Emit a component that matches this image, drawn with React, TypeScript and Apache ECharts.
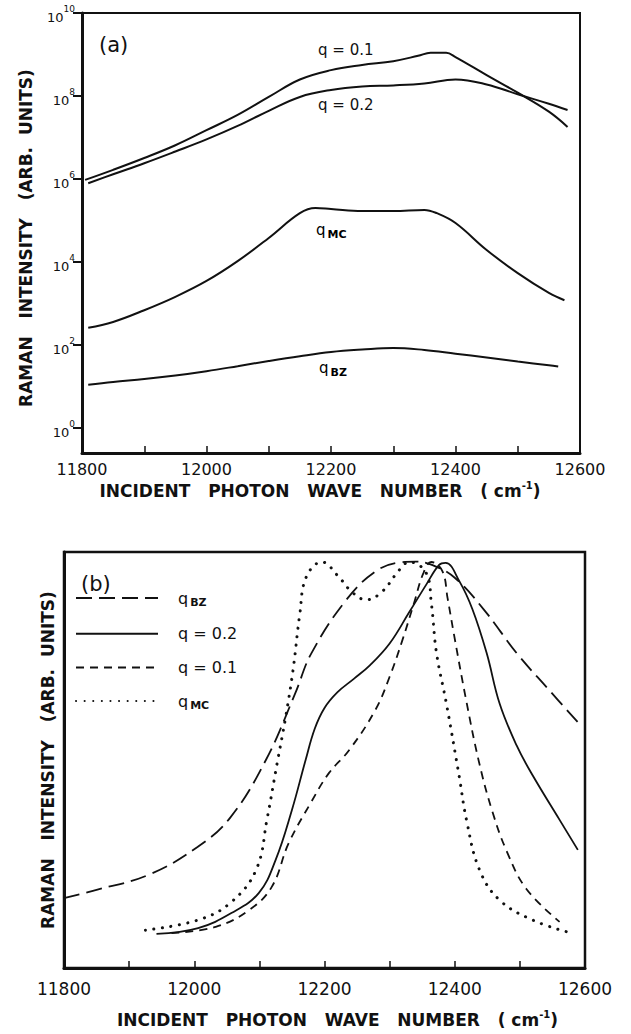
import React, { useEffect, useRef } from 'react';
import * as echarts from 'echarts';

const FONT = '"DejaVu Sans", "Liberation Sans", sans-serif';
const INK = '#111';

// ---------- Panel (a): log intensity vs incident photon wave number ----------
const aQ01Wave = [11805, 11850, 11900, 11950, 12000, 12050, 12100, 12150, 12200, 12250, 12300, 12340, 12360, 12385, 12400, 12450, 12500, 12550, 12580];
const aQ01Int = [9.5e5, 1.66e6, 3.2e6, 6.5e6, 1.5e7, 3.5e7, 9.5e7, 2.5e8, 4.2e8, 5.6e8, 6.9e8, 9.3e8, 1.1e9, 1.1e9, 8.7e8, 3.2e8, 1.2e8, 4.2e7, 1.8e7];

const aQ02Wave = [11810, 11850, 11900, 11950, 12000, 12050, 12100, 12150, 12200, 12250, 12300, 12350, 12400, 12450, 12500, 12550, 12580];
const aQ02Int = [7.9e5, 1.3e6, 2.4e6, 4.6e6, 9.0e6, 1.9e7, 4.4e7, 9.5e7, 1.4e8, 1.7e8, 1.8e8, 2.0e8, 2.5e8, 1.9e8, 1.1e8, 6.5e7, 4.6e7];

const aMCWave = [11810, 11850, 11900, 11950, 12000, 12050, 12100, 12150, 12175, 12200, 12250, 12300, 12350, 12370, 12400, 12450, 12500, 12550, 12575];
const aMCInt = [260, 360, 690, 1450, 3500, 1.05e4, 3.8e4, 1.5e5, 2.0e5, 1.9e5, 1.7e5, 1.7e5, 1.8e5, 1.5e5, 8.7e4, 1.95e4, 5400, 1800, 1200];

const aBZWave = [11810, 11850, 11900, 11950, 12000, 12050, 12100, 12150, 12200, 12250, 12300, 12350, 12400, 12450, 12500, 12550, 12565];
const aBZInt = [11, 12.9, 15.1, 18.4, 23.4, 30.9, 41.2, 53.7, 67.6, 77.6, 85, 75.9, 61.7, 50, 39.8, 32.4, 30.2];

const aYTicks = [1, 1e2, 1e4, 1e6, 1e8, 1e10];

// ---------- Panel (b): normalised intensity (arb. units) ----------
const bBZWave = [11800, 11850, 11930, 12005, 12055, 12110, 12155, 12180, 12235, 12280, 12315, 12340, 12365, 12400, 12445, 12495, 12545, 12590];
const bBZInt = [0.168, 0.188, 0.224, 0.291, 0.361, 0.5, 0.66, 0.757, 0.888, 0.955, 0.975, 0.977, 0.969, 0.938, 0.861, 0.757, 0.668, 0.589];

const bQ02Wave = [11942, 12006, 12057, 12099, 12125, 12150, 12171, 12185, 12200, 12220, 12245, 12270, 12300, 12330, 12356, 12376, 12386, 12407, 12427, 12449, 12469, 12495, 12520, 12561, 12589];
const bQ02Int = [0.082, 0.096, 0.132, 0.18, 0.26, 0.38, 0.5, 0.575, 0.625, 0.663, 0.695, 0.728, 0.78, 0.855, 0.921, 0.969, 0.974, 0.93, 0.863, 0.757, 0.635, 0.535, 0.462, 0.356, 0.284];

const bQ01Wave = [11965, 12033, 12084, 12119, 12145, 12180, 12207, 12238, 12278, 12300, 12320, 12338, 12352, 12364, 12381, 12389, 12399, 12418, 12438, 12458, 12480, 12510, 12561];
const bQ01Int = [0.084, 0.099, 0.139, 0.195, 0.3, 0.4, 0.469, 0.524, 0.62, 0.7, 0.79, 0.88, 0.95, 0.976, 0.954, 0.889, 0.8, 0.64, 0.49, 0.375, 0.28, 0.19, 0.111];

const bMCWave = [11925, 12005, 12055, 12095, 12112, 12127, 12140, 12152, 12162, 12172, 12196, 12222, 12242, 12264, 12288, 12315, 12330, 12356, 12364, 12372, 12387, 12407, 12418, 12438, 12469, 12520, 12572];
const bMCInt = [0.091, 0.115, 0.156, 0.236, 0.36, 0.49, 0.6, 0.72, 0.85, 0.94, 0.976, 0.94, 0.904, 0.885, 0.904, 0.957, 0.976, 0.95, 0.877, 0.757, 0.637, 0.459, 0.356, 0.236, 0.163, 0.115, 0.087];

const legendNames = ['qBZ', 'q = 0.2', 'q = 0.1', 'qMC'];
const xTitle = 'INCIDENT   PHOTON   WAVE   NUMBER   ( cm';
const yTitle = 'RAMAN   INTENSITY   (ARB.  UNITS)';

const zip = (xs: number[], ys: number[]) => xs.map((x, i) => [x, ys[i]]);

export default function App() {
  const ref = useRef<HTMLDivElement>(null);

  useEffect(() => {
    if (!ref.current) return;
    const chart = echarts.init(ref.current, null, { renderer: 'svg' });

    const titleRich = {
      t: { fontFamily: FONT, fontSize: 17, fontWeight: 'bold', color: INK, lineHeight: 22, verticalAlign: 'middle' },
      s: { fontFamily: FONT, fontSize: 10, fontWeight: 'bold', color: INK, lineHeight: 10, verticalAlign: 'top' },
    };
    const xName = `{t|${xTitle}}{s|-1}{t|)}`;

    const lineA = (name: string, xs: number[], ys: number[]) => ({
      type: 'line', name, xAxisIndex: 0, yAxisIndex: 0,
      data: zip(xs, ys), smooth: 0.4, symbol: 'none', silent: true,
      lineStyle: { color: INK, width: 2 },
    });
    const lineB = (name: string, xs: number[], ys: number[], ls: any) => ({
      type: 'line', name, xAxisIndex: 1, yAxisIndex: 1,
      data: zip(xs, ys), smooth: 0.4, symbol: 'none', silent: true,
      itemStyle: { color: INK },
      lineStyle: { color: INK, width: 1.8, ...ls },
    });

    const xAxisCommon = (gridIndex: number, labelMargin: number, labelSize: number) => ({
      type: 'value', gridIndex, min: 11800, max: 12600, interval: 100,
      axisLine: { show: true, onZero: false, lineStyle: { color: INK, width: 3 } },
      axisTick: { show: true, inside: true, length: 7, lineStyle: { color: INK, width: 1.5 } },
      axisLabel: {
        show: true, margin: labelMargin, fontFamily: FONT, fontSize: labelSize, color: INK,
        formatter: (v: number) => (v % 200 === 0 ? String(v) : ''),
      },
      splitLine: { show: false },
      nameLocation: 'middle',
    });

    const subRich = (size: number) => ({
      q: { fontFamily: FONT, fontSize: size, color: INK, lineHeight: 20, verticalAlign: 'middle' },
      t: { fontFamily: FONT, fontSize: size, color: INK, lineHeight: 20, verticalAlign: 'middle' },
      sub: { fontFamily: FONT, fontSize: 11, fontWeight: 'bold', color: INK, lineHeight: 10, verticalAlign: 'bottom', padding: [0, 0, 0, 2] },
    });

    const legendLabel: Record<string, string> = {
      'qBZ': '{q|q}{sub|BZ}',
      'q = 0.2': '{t|q = 0.2}',
      'q = 0.1': '{t|q = 0.1}',
      'qMC': '{q|q}{sub|MC}',
    };

    const option: any = {
      animation: false,
      backgroundColor: '#fff',
      grid: [
        { left: 82, top: 13, width: 498, height: 440, show: true, borderColor: INK, borderWidth: 2, backgroundColor: 'transparent' },
        { left: 64, top: 552, width: 521, height: 416, show: true, borderColor: INK, borderWidth: 2.5, backgroundColor: 'transparent' },
      ],
      xAxis: [
        {
          ...xAxisCommon(0, 8, 16),
          name: xName, nameGap: 27,
          nameTextStyle: { rich: titleRich, padding: [0, 22, 0, 0] },
        },
        {
          ...xAxisCommon(1, 12, 17),
          name: xName, nameGap: 41,
          nameTextStyle: { rich: titleRich, padding: [0, 0, 0, 26] },
        },
      ],
      yAxis: [
        {
          type: 'log', gridIndex: 0, logBase: 10, min: 0.25, max: 1e10,
          axisLine: { show: true, lineStyle: { color: INK, width: 3 } },
          axisTick: { show: true, inside: false, length: 9, customValues: aYTicks, lineStyle: { color: INK, width: 2 } },
          axisLabel: {
            show: true, customValues: aYTicks, margin: 7, padding: [8, 0, 0, 0],
            formatter: (v: number) => `{b|10}{s|${Math.round(Math.log10(v))}}`,
            rich: {
              b: { fontFamily: FONT, fontSize: 13, color: INK, lineHeight: 26, verticalAlign: 'middle' },
              s: { fontFamily: FONT, fontSize: 9, color: INK, lineHeight: 10, verticalAlign: 'top' },
            },
          },
          splitLine: { show: false },
          name: yTitle, nameLocation: 'middle', nameGap: 48,
          nameTextStyle: { fontFamily: FONT, fontSize: 17, fontWeight: 'bold', color: INK, padding: [0, 10, 0, 0] },
        },
        {
          type: 'value', gridIndex: 1, min: 0, max: 1,
          axisLine: { show: true, lineStyle: { color: INK, width: 3 } },
          axisTick: { show: false }, axisLabel: { show: false }, splitLine: { show: false },
          name: yTitle, nameLocation: 'middle', nameGap: 8,
          nameTextStyle: { fontFamily: FONT, fontSize: 17, fontWeight: 'bold', color: INK },
        },
      ],
      legend: {
        show: true, orient: 'vertical', left: 75, top: 590, padding: 0,
        itemWidth: 82, itemHeight: 14, itemGap: 17.7, selectedMode: false,
        data: legendNames,
        formatter: (n: string) => legendLabel[n],
        itemStyle: { opacity: 0 },
        textStyle: { color: INK, padding: [0, 0, 0, 15], rich: subRich(16) },
      },
      series: [
        lineA('(a) q = 0.1', aQ01Wave, aQ01Int),
        lineA('(a) q = 0.2', aQ02Wave, aQ02Int),
        lineA('(a) qMC', aMCWave, aMCInt),
        lineA('(a) qBZ', aBZWave, aBZInt),
        lineB('qBZ', bBZWave, bBZInt, { type: [16, 7] }),
        lineB('q = 0.2', bQ02Wave, bQ02Int, { type: 'solid' }),
        lineB('q = 0.1', bQ01Wave, bQ01Int, { type: [8, 6] }),
        lineB('qMC', bMCWave, bMCInt, { type: [0.1, 8.5], cap: 'round', width: 3 }),
      ],
      graphic: [
        { type: 'text', x: 99, y: 45, silent: true, style: { text: '(a)', font: `21px ${FONT}`, fill: INK, verticalAlign: 'middle' } },
        { type: 'text', x: 318, y: 50, silent: true, style: { text: 'q = 0.1', font: `15px ${FONT}`, fill: INK, verticalAlign: 'middle' } },
        { type: 'text', x: 318, y: 105, silent: true, style: { text: 'q = 0.2', font: `15px ${FONT}`, fill: INK, verticalAlign: 'middle' } },
        { type: 'text', x: 316, y: 230, silent: true, style: { text: '{q|q}{sub|MC}', rich: subRich(15), verticalAlign: 'middle' } },
        { type: 'text', x: 319, y: 368, silent: true, style: { text: '{q|q}{sub|BZ}', rich: subRich(15), verticalAlign: 'middle' } },
        { type: 'text', x: 81, y: 584, silent: true, style: { text: '(b)', font: `21px ${FONT}`, fill: INK, verticalAlign: 'middle' } },
      ],
    };

    chart.setOption(option);
    return () => chart.dispose();
  }, []);

  return (
    <div
      ref={ref}
      style={{ position: 'absolute', left: 0, top: 0, width: 631, height: 1034, background: '#fff' }}
    />
  );
}
